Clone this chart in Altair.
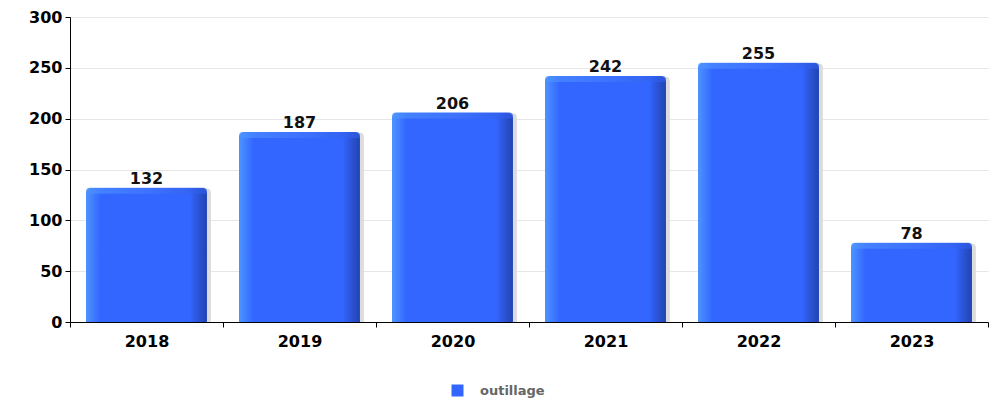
import altair as alt
import pandas as pd

years = ["2018", "2019", "2020", "2021", "2022", "2023"]
values = [132, 187, 206, 242, 255, 78]
series = "outillage"

df = pd.DataFrame({"year": years, "value": values, "series": [series] * len(years)})

FONT = "DejaVu Sans"
BAND = 0.79
xenc = alt.X("year:N", sort=years,
             scale=alt.Scale(paddingInner=0, paddingOuter=0),
             axis=alt.Axis(title=None, labelAngle=0, labelFont=FONT, labelFontWeight="bold",
                           labelFontSize=16, labelColor="#000", tickBand="extent", tickSize=5,
                           tickColor="#000", domainColor="#000", labelPadding=6, grid=False))
yenc = alt.Y("value:Q", scale=alt.Scale(domain=[0, 300]),
             axis=alt.Axis(title=None, values=[0, 50, 100, 150, 200, 250, 300], labelFont=FONT,
                           labelFontWeight="bold", labelFontSize=16, labelColor="#000",
                           tickColor="#000", domainColor="#000", tickSize=5, labelPadding=3,
                           gridColor="#e6e6e6"))

base = alt.Chart(df)

shadow = base.mark_bar(color="#dcdcdc", width=alt.RelativeBandSize(BAND), xOffset=4, yOffset=1,
                       cornerRadiusTopLeft=5, cornerRadiusTopRight=5).encode(x=xenc, y=yenc)

legend_bars = base.mark_bar(width=alt.RelativeBandSize(BAND), cornerRadiusTopLeft=6,
                            cornerRadiusTopRight=6).encode(
    x=xenc, y=yenc,
    color=alt.Color("series:N", scale=alt.Scale(range=["#3366ff"]),
                    legend=alt.Legend(title=None, orient="none", legendX=381, legendY=367,
                                      symbolType="square", symbolSize=144, symbolStrokeWidth=0,
                                      labelFont=FONT, labelFontWeight="bold", labelFontSize=13,
                                      labelColor="#666666", labelOffset=16)))

grad = alt.Gradient(gradient="linear", x1=0, x2=1, y1=0, y2=0, stops=[
    alt.GradientStop(offset=0, color="#4d94ff"),
    alt.GradientStop(offset=0.12, color="#3366ff"),
    alt.GradientStop(offset=0.86, color="#3366ff"),
    alt.GradientStop(offset=0.9, color="#2e5ae6"),
    alt.GradientStop(offset=1, color="#2244b0"),
])
bars = base.mark_bar(color=grad, width=alt.RelativeBandSize(BAND), cornerRadiusTopLeft=6,
                     cornerRadiusTopRight=6).encode(x=xenc, y=yenc)

topgrad = alt.Gradient(gradient="linear", x1=0, x2=1, y1=0, y2=0, stops=[
    alt.GradientStop(offset=0, color="#4d94ff"),
    alt.GradientStop(offset=0.5, color="#4278ff"),
    alt.GradientStop(offset=1, color="#2e5ae6"),
])
top = base.mark_bar(color=topgrad, width=alt.RelativeBandSize(BAND), cornerRadiusTopLeft=6,
                    cornerRadiusTopRight=6, y2Offset=6, opacity=0.7).encode(
    x=xenc, y=yenc, y2=alt.Y2("value:Q"))

labels = base.mark_text(font=FONT, fontWeight="bold", fontSize=16, color="#111",
                        baseline="bottom", dy=-1).encode(x=xenc, y=yenc, text="value:Q")

chart = alt.layer(shadow, legend_bars, bars, top, labels).properties(
    width=918, height=305,
    autosize=alt.AutoSizeParams(type="none"),
    padding={"left": 62, "top": 9, "right": 2, "bottom": 76},
).configure_view(stroke=None)

chart.save("out.html", embed_options={"renderer": "svg", "actions": False})
